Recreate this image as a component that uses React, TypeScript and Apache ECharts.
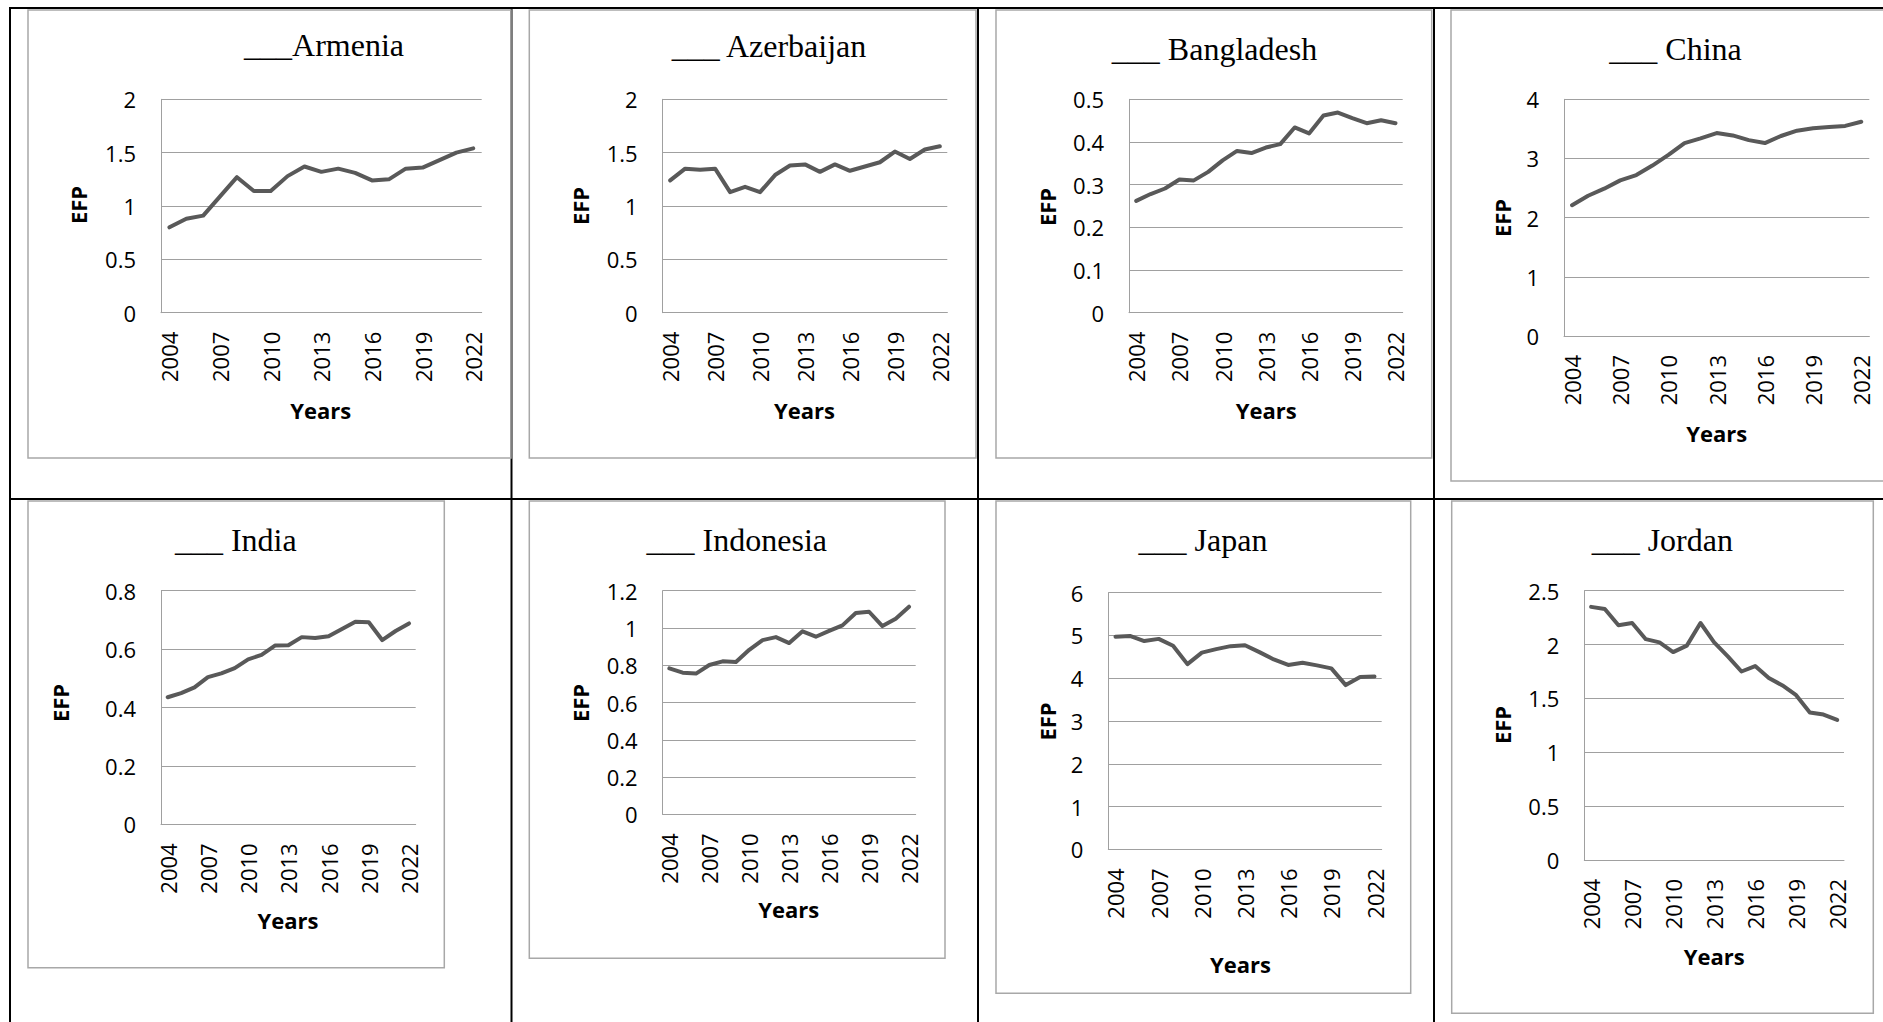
import React, { useEffect, useRef } from 'react';
import * as echarts from 'echarts';

const years = ['2004', '2005', '2006', '2007', '2008', '2009', '2010', '2011', '2012', '2013', '2014', '2015', '2016', '2017', '2018', '2019', '2020', '2021', '2022'];

const armenia = [0.80, 0.88, 0.91, 1.09, 1.27, 1.14, 1.14, 1.28, 1.37, 1.32, 1.35, 1.31, 1.24, 1.25, 1.35, 1.36, 1.43, 1.50, 1.54];
const azerbaijan = [1.24, 1.35, 1.34, 1.35, 1.13, 1.18, 1.13, 1.29, 1.38, 1.39, 1.32, 1.39, 1.33, 1.37, 1.41, 1.51, 1.44, 1.53, 1.56];
const bangladesh = [0.262, 0.278, 0.291, 0.312, 0.310, 0.330, 0.357, 0.379, 0.374, 0.387, 0.395, 0.434, 0.420, 0.462, 0.469, 0.456, 0.444, 0.451, 0.444];
const china = [2.21, 2.37, 2.49, 2.63, 2.72, 2.88, 3.06, 3.26, 3.34, 3.43, 3.39, 3.31, 3.26, 3.38, 3.47, 3.51, 3.53, 3.55, 3.62];
const india = [0.435, 0.449, 0.469, 0.504, 0.517, 0.535, 0.565, 0.580, 0.612, 0.613, 0.641, 0.638, 0.644, 0.669, 0.694, 0.692, 0.631, 0.662, 0.688];
const indonesia = [0.783, 0.760, 0.755, 0.801, 0.821, 0.817, 0.883, 0.935, 0.951, 0.919, 0.982, 0.953, 0.984, 1.014, 1.080, 1.087, 1.010, 1.050, 1.114];
const japan = [4.97, 4.99, 4.87, 4.92, 4.76, 4.33, 4.60, 4.68, 4.75, 4.77, 4.61, 4.44, 4.31, 4.36, 4.30, 4.23, 3.84, 4.03, 4.04];
const jordan = [2.35, 2.33, 2.18, 2.20, 2.05, 2.02, 1.93, 1.99, 2.20, 2.02, 1.89, 1.75, 1.80, 1.69, 1.62, 1.53, 1.37, 1.35, 1.30];

const seriesData = [armenia, azerbaijan, bangladesh, china, india, indonesia, japan, jordan];
const titles = ['___Armenia', '___ Azerbaijan', '___ Bangladesh', '___ China', '___ India', '___ Indonesia', '___ Japan', '___ Jordan'];
const yMax = [2, 2, 0.5, 4, 0.8, 1.2, 6, 2.5];
const yStep = [0.5, 0.5, 0.1, 1, 0.2, 0.2, 1, 0.5];
const yName = 'EFP';
const xName = 'Years';

// layout: box [x1,y1,x2,y2], grid [x1,y1,x2,y2], title [cx, baseline], efp [cx, cy], years [cx, baseline]
const panels = [
  { box: [28, 10, 511, 458], grid: [161, 99.3, 481.7, 312.7], title: [324, 56], efp: [77.5, 205], years: [320.8, 418] },
  { box: [529.3, 10, 976, 458], grid: [662.7, 99.3, 947.3, 312.7], title: [769, 57], efp: [579.8, 206], years: [804.5, 418] },
  { box: [996, 10, 1431.7, 458], grid: [1129, 99.3, 1402.7, 312.7], title: [1214.5, 60], efp: [1046.5, 207], years: [1266.2, 418] },
  { box: [1451, 10, 1895, 481], grid: [1564, 99.3, 1869.3, 336], title: [1675.5, 60], efp: [1501.5, 218], years: [1716.7, 441.7] },
  { box: [28, 501, 444.3, 967.7], grid: [161, 590.7, 415.7, 824.3], title: [235.8, 551], efp: [59.8, 703], years: [288, 928] },
  { box: [529.3, 501, 945, 958.3], grid: [662.7, 590.7, 915.7, 814.3], title: [736.8, 551], efp: [579.8, 703], years: [788.8, 917.7] },
  { box: [996, 501, 1410.7, 993.3], grid: [1108.3, 592.7, 1381.7, 849.3], title: [1203, 551], efp: [1046.5, 721.5], years: [1240.5, 972.3] },
  { box: [1451.7, 501, 1873.3, 1013.3], grid: [1584.3, 590.7, 1844, 860], title: [1662.3, 551], efp: [1501.5, 725], years: [1714.2, 964.3] },
];

const GRID_GRAY = '#a0a0a0';
const LINE_GRAY = '#595959';
const BOX_GRAY = '#a8a8a8';

export default function App() {
  const ref = useRef<HTMLDivElement>(null);

  useEffect(() => {
    if (!ref.current) return;
    const chart = echarts.init(ref.current, undefined, { renderer: 'svg' });

    const graphic: any[] = [];
    // table lines
    const black = { stroke: '#000', lineWidth: 2 };
    graphic.push({ type: 'line', shape: { x1: 9, y1: 8, x2: 1900, y2: 8 }, style: black });
    graphic.push({ type: 'line', shape: { x1: 9, y1: 499, x2: 1900, y2: 499 }, style: black });
    [10, 511.5, 978, 1434].forEach((x) => {
      graphic.push({ type: 'line', shape: { x1: x, y1: 7, x2: x, y2: 1030 }, style: black });
    });

    panels.forEach((p, i) => {
      graphic.push({
        type: 'rect',
        shape: { x: p.box[0], y: p.box[1], width: p.box[2] - p.box[0], height: p.box[3] - p.box[1] },
        style: { fill: 'none', stroke: BOX_GRAY, lineWidth: 1.5 },
      });
      graphic.push({
        type: 'text',
        x: p.title[0],
        y: p.title[1] - 11,
        style: {
          text: titles[i],
          fontFamily: '"Liberation Serif", "Times New Roman", serif',
          fontSize: 32,
          fill: '#000',
          align: 'center',
          verticalAlign: 'middle',
        },
      });
      graphic.push({
        type: 'text',
        x: p.efp[0],
        y: p.efp[1],
        rotation: Math.PI / 2,
        style: {
          text: yName,
          fontFamily: '"Open Sans", sans-serif',
          fontWeight: 'bold',
          fontSize: 22,
          fill: '#000',
          align: 'center',
          verticalAlign: 'middle',
        },
      });
      graphic.push({
        type: 'text',
        x: p.years[0],
        y: p.years[1] - 8.5,
        style: {
          text: xName,
          fontFamily: '"Open Sans", sans-serif',
          fontWeight: 'bold',
          fontSize: 22,
          fill: '#000',
          align: 'center',
          verticalAlign: 'middle',
        },
      });
    });

    const option: any = {
      animation: false,
      backgroundColor: '#fff',
      grid: panels.map((p) => ({
        left: p.grid[0],
        top: p.grid[1],
        width: p.grid[2] - p.grid[0],
        height: p.grid[3] - p.grid[1],
      })),
      xAxis: panels.map((_, i) => ({
        type: 'category',
        gridIndex: i,
        data: years,
        boundaryGap: true,
        axisTick: { show: false },
        axisLine: { show: true, lineStyle: { color: GRID_GRAY, width: 1 } },
        axisLabel: {
          interval: 2,
          rotate: 90,
          margin: 19,
          fontFamily: '"Open Sans", sans-serif',
          fontSize: 22,
          color: '#000',
        },
        splitLine: { show: false },
      })),
      yAxis: panels.map((_, i) => ({
        type: 'value',
        gridIndex: i,
        min: 0,
        max: yMax[i],
        interval: yStep[i],
        axisTick: { show: false },
        axisLine: { show: true, lineStyle: { color: GRID_GRAY, width: 1 } },
        splitLine: { show: true, lineStyle: { color: GRID_GRAY, width: 1 } },
        axisLabel: {
          margin: 25,
          fontFamily: '"Open Sans", sans-serif',
          fontSize: 22,
          color: '#000',
        },
      })),
      series: seriesData.map((d, i) => ({
        type: 'line',
        name: titles[i].replace(/_/g, '').trim(),
        xAxisIndex: i,
        yAxisIndex: i,
        data: d,
        symbol: 'none',
        silent: true,
        lineStyle: { color: LINE_GRAY, width: 4, join: 'round', cap: 'round' },
      })),
      graphic,
    };

    chart.setOption(option);
    return () => chart.dispose();
  }, []);

  return (
    <div
      ref={ref}
      style={{ position: 'fixed', left: 0, top: 0, width: 1883, height: 1022, background: '#fff' }}
    />
  );
}
